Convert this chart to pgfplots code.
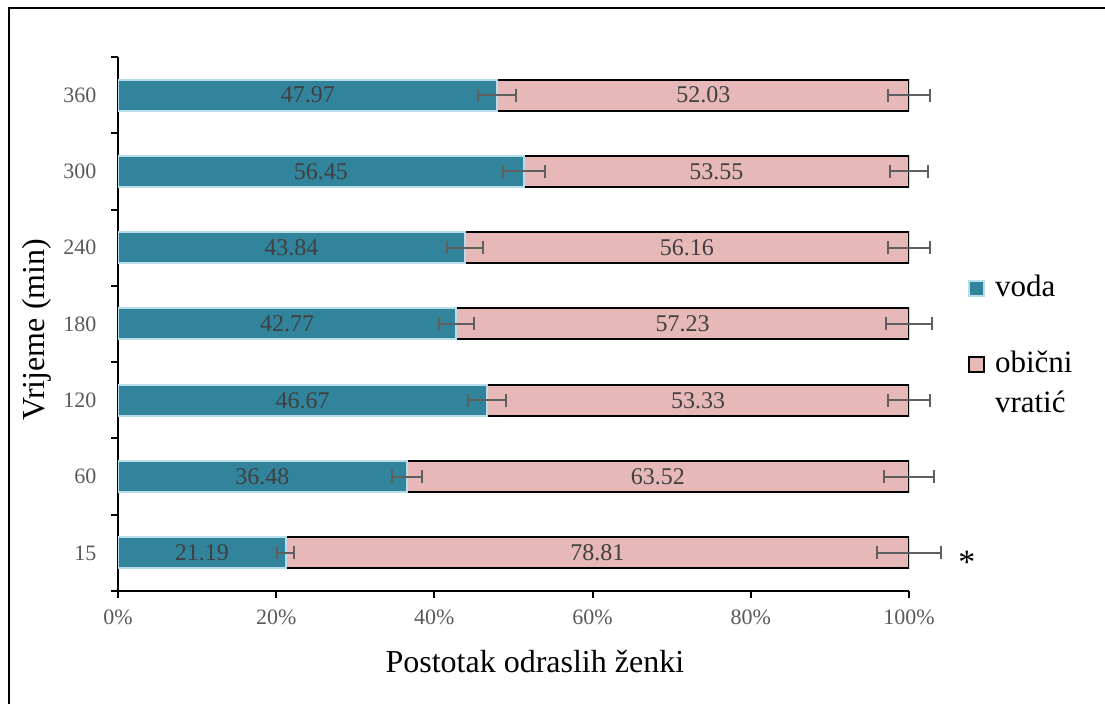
\documentclass[border=0pt]{standalone}
\usepackage{fontspec}
\setmainfont{Liberation Serif}
\usepackage{pgfplots}
\usepackage{pgfplotstable}
\pgfplotsset{compat=1.18}
\definecolor{teal1}{RGB}{49,132,155}
\definecolor{tealb}{RGB}{183,222,232}
\definecolor{pink1}{RGB}{230,185,184}
\definecolor{errgray}{RGB}{95,95,95}
\definecolor{labgray}{RGB}{64,64,64}
\definecolor{tickgray}{RGB}{89,89,89}

\pgfplotstableread{
pos voda vratic
0 21.19 78.81
1 36.48 63.52
2 46.67 53.33
3 42.77 57.23
4 43.84 56.16
5 51.32 48.68
6 47.97 52.03
}\bars

\pgfplotstableread{
x y err
21.19 0 1.1
36.48 1 1.9
46.67 2 2.4
42.77 3 2.2
43.84 4 2.3
51.32 5 2.6
47.97 6 2.4
100 0 4.0
100 1 3.2
100 2 2.6
100 3 2.9
100 4 2.6
100 5 2.45
100 6 2.65
}\errs

\pgfplotstableread{
x y lab
10.60 0 21.19
18.24 1 36.48
23.34 2 46.67
21.39 3 42.77
21.92 4 43.84
25.66 5 56.45
23.99 6 47.97
60.60 0 78.81
68.24 1 63.52
73.34 2 53.33
71.39 3 57.23
71.92 4 56.16
75.66 5 53.55
73.99 6 52.03
}\labels

\begin{document}
\begin{tikzpicture}
\useasboundingbox (0,0) rectangle (1105bp,704bp);
\draw[line width=2bp] (9.3bp,0) -- (9.3bp,696bp) -- (1105bp,696bp);
\begin{axis}[
  at={(118bp,113bp)}, anchor=south west,
  scale only axis, width=791bp, height=534bp,
  xbar stacked, bar width=31bp,
  xmin=0, xmax=100, ymin=-0.5, ymax=6.5,
  axis x line*=bottom, axis y line*=left,
  axis line style={line width=2bp},
  every tick/.style={line width=2bp, black},
  tick align=outside,
  major tick length=7bp, minor tick length=7bp,
  xtick={0,20,40,60,80,100},
  xticklabels={0\%,20\%,40\%,60\%,80\%,100\%},
  ytick={0,1,2,3,4,5,6},
  yticklabels={15,60,120,180,240,300,360},
  minor ytick={-0.5,0.5,1.5,2.5,3.5,4.5,5.5,6.5},
  major y tick style={draw=none},
  /pgf/number format/assume math mode=true,
  ticklabel style={font=\fontsize{22bp}{26bp}\selectfont, text=tickgray},
  yticklabel style={xshift=-11bp},
  xticklabel style={yshift=-8bp},
  xlabel={Postotak odraslih ženki},
  ylabel={Vrijeme (min)},
  label style={font=\fontsize{32bp}{36bp}\selectfont},
  xlabel style={at={(axis description cs:0.527,-0.152)}, anchor=base},
  ylabel style={at={(axis description cs:-0.103,0.489)}, anchor=center, rotate=0},
  legend image code/.code={\draw[#1, line width=2bp] (0bp,0.5bp) rectangle (15bp,15.5bp);},
  legend cell align=left,
  legend style={at={(axis description cs:1.0746,0.5918)}, anchor=north west,
    draw=none, fill=none, inner sep=0pt, outer sep=0pt,
    row sep=47bp, column sep=10bp,
    cells={anchor=base west},
    nodes={inner sep=0pt},
    font=\fontsize{31bp}{40bp}\selectfont},
]
\addplot[fill=teal1, draw=tealb, line width=2bp] table[x=voda, y=pos] {\bars};
\addlegendentry{voda}
\addplot[fill=pink1, draw=black, line width=2bp] table[x=vratic, y=pos] {\bars};
\addlegendentry{\begin{tabular}[t]{@{}l@{}}obični\\vratić\end{tabular}}
\end{axis}
\begin{axis}[
  at={(118bp,113bp)}, anchor=south west,
  scale only axis, width=791bp, height=534bp,
  xmin=0, xmax=100, ymin=-0.5, ymax=6.5,
  hide axis, clip=false,
]
\addplot[draw=none, mark=none,
  error bars/.cd, x dir=both, x explicit,
  error bar style={line width=2bp, draw=errgray},
  error mark options={line width=2bp, draw=errgray, mark size=6.5bp, rotate=90}]
  table[x=x, y=y, x error=err] {\errs};
\addplot[draw=none, mark=none, nodes near coords, point meta=explicit symbolic,
  every node near coord/.append style={anchor=center, text=labgray,
    font=\fontsize{24bp}{28bp}\selectfont}]
  table[x=x, y=y, meta=lab] {\labels};
\node[anchor=base, font=\fontsize{34bp}{38bp}\selectfont] at (axis cs:107.3,-0.27) {*};
\end{axis}
\end{tikzpicture}
\end{document}
